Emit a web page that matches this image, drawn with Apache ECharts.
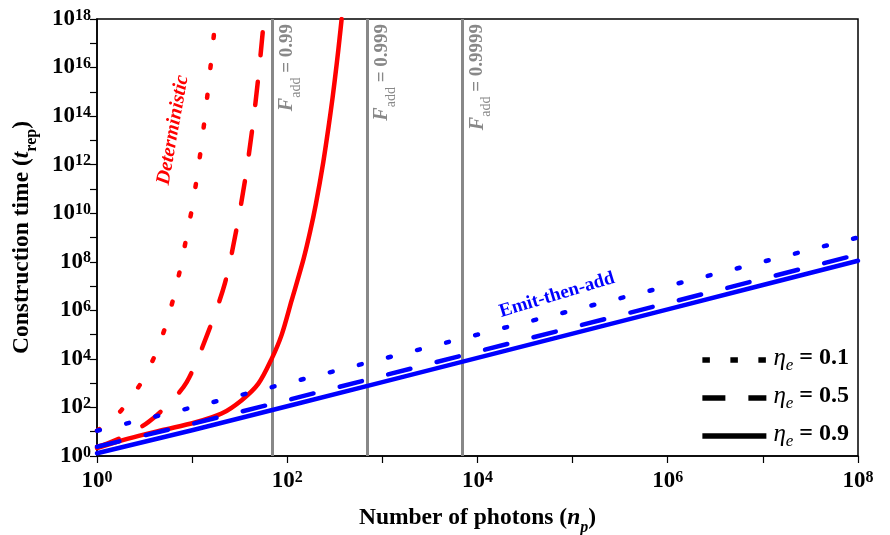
<!DOCTYPE html>
<html><head><meta charset="utf-8">
<script src="https://cdn.jsdelivr.net/npm/echarts@6/dist/echarts.min.js"></script>
<style>html,body{margin:0;padding:0;background:#fff}#c{width:890px;height:535px}</style>
</head><body><div id="c"></div>
<script>
// ---- data ----
const xTickExps = [0, 2, 4, 6, 8];
const yTickExps = [0, 2, 4, 6, 8, 10, 12, 14, 16, 18];
const etaLabels = ['0.1', '0.5', '0.9'];
const faddLabels = ['0.99', '0.999', '0.9999'];
const faddN = [69.3, 693, 6931];

const blueN = [1, 10, 100, 1e3, 1e4, 1e5, 1e6, 1e7, 1e8];
const blueDotted = [11, 100, 1000, 1e4, 1e5, 1e6, 1e7, 1e8, 1e9];
const blueDashed = [2.4, 21, 200, 2e3, 2e4, 2e5, 2e6, 2e7, 2e8];
const blueSolid = [1.3, 11.5, 112, 1.1e3, 1.1e4, 1.1e5, 1.1e6, 1.1e7, 1.1e8];

const redDottedN = [1, 1.4, 1.8, 2.8, 4, 5.2, 6.4, 7.6, 8.8, 10.1, 11.35, 12.6, 13.8, 15, 16.3, 17.6];
const redDottedT = [11, 30, 76, 810, 1.2e4, 1.95e5, 3.5e6, 6.6e7, 1.26e9, 2.1e10, 4.1e11, 7.6e12, 1.4e14, 2.6e15, 5.2e16, 1e18];
const redDashedN = [1, 1.26, 2, 3.46, 5.5, 8.77, 14.55, 22.1, 28.9, 36, 43, 49.7, 56.9];
const redDashedT = [2.4, 3.2, 7, 25, 126, 1.1e3, 1.1e5, 1.3e7, 1.7e9, 2.3e11, 3.2e13, 4.2e15, 1e18];
const redSolidN = [1, 2.13, 4.79, 10.7, 20.4, 33.2, 49.7, 68.5, 87.5, 111, 148, 174, 200, 239, 270, 300, 331, 355, 373];
const redSolidT = [2.1, 5.2, 11.5, 24, 56, 200, 955, 1.0e4, 1.0e5, 2.5e6, 1.25e8, 1.75e9, 2.4e10, 1.25e12, 3e13, 6e14, 1.4e16, 1.6e17, 1e18];

// ---- helpers ----
const F = "'Liberation Serif','Times New Roman',serif";
const zip = (a, b) => a.map((v, i) => [v, b[i]]);
const exp10 = v => Math.round(Math.log10(v));
const RED = '#ff0000', BLUE = '#0000ff', GRAY = '#888888';
const DOT = [3, 27], DASH = [23, 27];

function lineSeries(name, data, color, type, smooth) {
  return {
    name, type: 'line', data, showSymbol: false, symbol: 'none', z: 3,
    silent: true, animation: false, smooth: smooth ? 0.3 : false,
    lineStyle: { color, width: 4.5, type, cap: 'round', join: 'round' }
  };
}
const legendNames = ['eta0', 'eta1', 'eta2'];
const legendTypes = [[7.5, 20.5], [23, 23], 'solid'];

const chart = echarts.init(document.getElementById('c'), null, { renderer: 'canvas' });
const labelRich = {
  b: { fontSize: 23, fontWeight: 'bold', fontFamily: F, color: '#000', verticalAlign: 'bottom' },
  s: { fontSize: 16, fontWeight: 'bold', fontFamily: F, color: '#000', verticalAlign: 'top' }
};
function nameRich(italicSub) {
  return {
    a: { fontSize: 23.5, fontWeight: 'bold', fontFamily: F, color: '#000', verticalAlign: 'top', lineHeight: 26 },
    i: { fontSize: 23.5, fontWeight: 'bold', fontStyle: 'italic', fontFamily: F, color: '#000', verticalAlign: 'top', lineHeight: 26 },
    sub: { fontSize: 16, fontWeight: 'bold', fontStyle: italicSub ? 'italic' : 'normal', fontFamily: F, color: '#000', verticalAlign: 'bottom', lineHeight: 30 }
  };
}
const option = {
  animation: false,
  backgroundColor: '#fff',
  grid: { left: 97, right: 32, top: 19, bottom: 79, show: true, borderColor: '#000', borderWidth: 1.5,
          containLabel: false, outerBoundsMode: 'none' },
  xAxis: {
    type: 'log', logBase: 10, min: 1, max: 1e8, interval: 1,
    axisLine: { lineStyle: { color: '#000', width: 1.5 } },
    axisTick: { length: 7, lineStyle: { color: '#000', width: 1.2 } },
    splitLine: { show: false }, minorTick: { show: false },
    axisLabel: {
      margin: 14,
      formatter: v => xTickExps.includes(exp10(v)) ? '{b|10}{s|' + exp10(v) + '}' : '',
      rich: labelRich
    },
    name: '{a|Number of photons (}{i|n}{sub|p}{a|)}',
    nameLocation: 'middle', nameGap: 50,
    nameTextStyle: { rich: nameRich(true) }
  },
  yAxis: {
    type: 'log', logBase: 10, min: 1, max: 1e18, interval: 1,
    axisLine: { lineStyle: { color: '#000', width: 1.5 } },
    axisTick: { length: 7, lineStyle: { color: '#000', width: 1.2 } },
    splitLine: { show: false }, minorTick: { show: false },
    axisLabel: {
      margin: 6,
      formatter: v => yTickExps.includes(exp10(v)) ? '{b|10}{s|' + exp10(v) + '}' : '',
      rich: labelRich
    },
    name: '{a|Construction time (}{i|t}{sub|rep}{a|)}',
    nameLocation: 'middle', nameGap: 57, nameRotate: 90,
    nameTextStyle: { rich: nameRich(false) }
  },
  legend: {
    data: legendNames, orient: 'vertical', right: 36, top: 341,
    itemWidth: 64, itemHeight: 20, itemGap: 10, selectedMode: false,
    itemStyle: { color: 'rgba(0,0,0,0)', opacity: 0, borderWidth: 0 },
    lineStyle: { width: 5.5, color: '#000', cap: 'butt' },
    formatter: name => '{i|η}{sub|e}{b| = ' + etaLabels[legendNames.indexOf(name)] + '}',
    textStyle: {
      padding: [0, 0, 0, 2],
      rich: {
        i: { fontSize: 25, fontStyle: 'italic', fontFamily: F, color: '#000', verticalAlign: 'top', lineHeight: 24 },
        sub: { fontSize: 17, fontStyle: 'italic', fontFamily: F, color: '#000', verticalAlign: 'bottom', lineHeight: 28 },
        b: { fontSize: 24, fontWeight: 'bold', fontFamily: F, color: '#000', verticalAlign: 'top', lineHeight: 24 }
      }
    }
  },
  series: [
    {
      name: 'fadd', type: 'line', data: [], silent: true, z: 1,
      markLine: {
        silent: true, symbol: 'none', z: 1, animation: false,
        lineStyle: { color: GRAY, width: 3, type: 'solid' },
        label: {
          show: true, position: 'insideEndBottom', distance: 5,
          formatter: p => '{i|F}{sub|add}{b| = ' + faddLabels[faddN.indexOf(p.value)] + '}',
          rich: {
            i: { fontSize: 20, fontStyle: 'italic', fontWeight: 'bold', fontFamily: F, color: GRAY, verticalAlign: 'top', lineHeight: 22 },
            sub: { fontSize: 14, fontFamily: F, color: GRAY, verticalAlign: 'bottom', lineHeight: 26 },
            b: { fontSize: 19, fontWeight: 'bold', fontFamily: F, color: GRAY, verticalAlign: 'top', lineHeight: 22 }
          }
        },
        data: faddN.map(v => ({ xAxis: v }))
      }
    },
    lineSeries('redDotted', zip(redDottedN, redDottedT), RED, DOT, true),
    lineSeries('redDashed', zip(redDashedN, redDashedT), RED, DASH, true),
    lineSeries('redSolid', zip(redSolidN, redSolidT), RED, 'solid', true),
    lineSeries('blueDotted', zip(blueN, blueDotted), BLUE, DOT, false),
    lineSeries('blueDashed', zip(blueN, blueDashed), BLUE, DASH, false),
    lineSeries('blueSolid', zip(blueN, blueSolid), BLUE, 'solid', false),
    ...legendNames.map((n, i) => ({
      name: n, type: 'line', data: [], symbol: 'none', showSymbol: false, color: '#000',
      lineStyle: { color: '#000', width: 5.5, type: legendTypes[i], cap: 'butt' }
    }))
  ],
  graphic: [
    { type: 'text', x: 173, y: 130, rotation: 80 * Math.PI / 180, silent: true,
      style: { text: 'Deterministic', fill: RED, font: "italic bold 20px 'Liberation Serif', serif", align: 'center', verticalAlign: 'middle', textAlign: 'center', textVerticalAlign: 'middle' } },
    { type: 'text', x: 557, y: 295, rotation: 16.8 * Math.PI / 180, silent: true,
      style: { text: 'Emit-then-add', fill: BLUE, font: "bold 19px 'Liberation Serif', serif", align: 'center', verticalAlign: 'middle', textAlign: 'center', textVerticalAlign: 'middle' } }
  ]
};
chart.setOption(option);
</script></body></html>
